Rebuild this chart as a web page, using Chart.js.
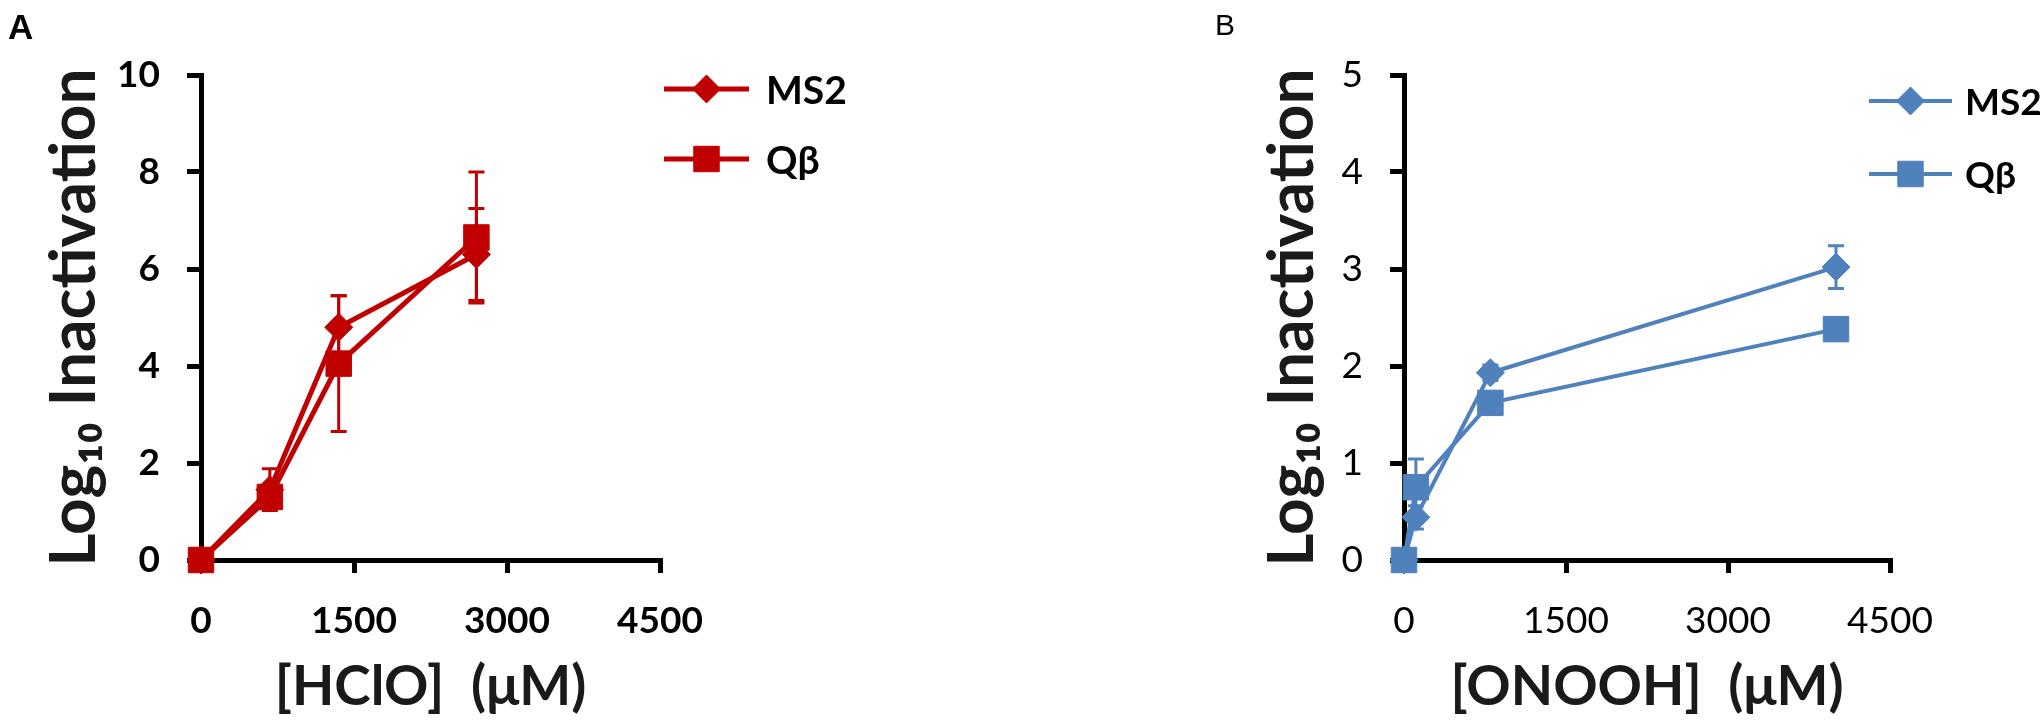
<!DOCTYPE html>
<html>
<head>
<meta charset="utf-8">
<script src="https://cdn.jsdelivr.net/npm/chart.js@4.4.1/dist/chart.umd.min.js"></script>
<style>
  body { margin: 0; background: #fff; }
  #page { position: relative; width: 2043px; height: 720px; overflow: hidden; background: #fff; }
  .wrap { position: absolute; top: 0; height: 720px; }
  #wrapA { left: 0; width: 1000px; }
  #wrapB { left: 1000px; width: 1043px; }
  .tag { position: absolute; font-family: "Liberation Sans", Arial, sans-serif; color: #000; line-height: 1; }
  #tagA { left: 8px; top: 9px; font-size: 35px; font-weight: bold; }
  #tagB { left: 1215px; top: 10px; font-size: 30px; }
</style>
</head>
<body>
<div id="page">
  <div class="wrap" id="wrapA"><canvas id="chartA" width="1000" height="720"></canvas></div>
  <div class="wrap" id="wrapB"><canvas id="chartB" width="1043" height="720"></canvas></div>
  <div class="tag" id="tagA">A</div>
  <div class="tag" id="tagB">B</div>
</div>
<script>
"use strict";

// panel A - HClO
const hcloDose = [0, 675, 1350, 2700];
const hcloMs2 = [0, 1.45, 4.8, 6.3];
const hcloMs2Err = [0.05, 0.43, 0.65, 0.95];
const hcloQb = [0, 1.3, 4.05, 6.65];
const hcloQbErr = [0.05, 0.2, 1.4, 1.35];

// panel B - ONOOH
const onoohDose = [0, 110, 800, 4000];
const onoohMs2 = [0, 0.44, 1.93, 3.02];
const onoohMs2Err = [0.05, 0.12, 0.08, 0.22];
const onoohQb = [0, 0.75, 1.62, 2.38];
const onoohQbErr = [0.05, 0.29, 0.1, 0.05];

const xTicks = [0, 1500, 3000, 4500];
const yMaxA = 10;
const yMaxB = 5;

const RED = "#C00000";
const BLUE = "#4F81BD";

function points(xs, ys) {
  return xs.map((x, i) => ({ x: x, y: ys[i] }));
}

const errorBars = {
  id: "errorBars",
  afterDatasetsDraw(chart) {
    const ctx = chart.ctx;
    const x = chart.scales.x;
    const y = chart.scales.y;
    chart.data.datasets.forEach((ds) => {
      if (!ds.errors) return;
      ctx.save();
      ctx.strokeStyle = ds.borderColor;
      ctx.lineWidth = 3;
      ds.data.forEach((p, j) => {
        const e = ds.errors[j];
        if (!e) return;
        const px = x.getPixelForValue(p.x);
        const top = y.getPixelForValue(p.y + e);
        const bot = y.getPixelForValue(p.y - e);
        ctx.beginPath();
        ctx.moveTo(px, top);
        ctx.lineTo(px, bot);
        ctx.moveTo(px - 8, top);
        ctx.lineTo(px + 8, top);
        ctx.moveTo(px - 8, bot);
        ctx.lineTo(px + 8, bot);
        ctx.stroke();
      });
      ctx.restore();
    });
  }
};

const sideLegend = {
  id: "sideLegend",
  afterDraw(chart, args, opts) {
    const ctx = chart.ctx;
    chart.data.datasets.forEach((ds, i) => {
      const ly = opts.y0 + i * opts.gap;
      ctx.save();
      ctx.strokeStyle = ds.borderColor;
      ctx.lineWidth = ds.borderWidth;
      ctx.beginPath();
      ctx.moveTo(opts.x0, ly);
      ctx.lineTo(opts.x1, ly);
      ctx.stroke();
      ctx.fillStyle = ds.backgroundColor;
      ctx.lineWidth = 1;
      Chart.helpers.drawPoint(ctx, { pointStyle: ds.pointStyle, radius: ds.pointRadius, borderWidth: 1, rotation: 0 }, (opts.x0 + opts.x1) / 2, ly);
      ctx.fillStyle = "#000";
      ctx.font = opts.font;
      ctx.textBaseline = "middle";
      ctx.fillText(ds.label, opts.textX, ly + 2);
      ctx.restore();
    });
  }
};

function makeChart(id, cfg) {
  const fam = cfg.family;
  return new Chart(document.getElementById(id), {
    type: "line",
    data: {
      datasets: [
        {
          label: "MS2",
          data: points(cfg.dose, cfg.ms2),
          errors: cfg.ms2Err,
          borderColor: cfg.color,
          backgroundColor: cfg.color,
          borderWidth: cfg.lineWidth,
          pointStyle: "rectRot",
          pointRadius: 14,
          pointBorderWidth: 1,
          clip: false,
          tension: 0
        },
        {
          label: "Qβ",
          data: points(cfg.dose, cfg.qb),
          errors: cfg.qbErr,
          borderColor: cfg.color,
          backgroundColor: cfg.color,
          borderWidth: cfg.lineWidth,
          pointStyle: "rect",
          pointRadius: 18,
          pointBorderWidth: 1,
          clip: false,
          tension: 0
        }
      ]
    },
    options: {
      responsive: false,
      animation: false,
      events: [],
      layout: { padding: { top: 75, right: cfg.padRight, left: 0, bottom: 0 } },
      plugins: {
        legend: { display: false },
        tooltip: { enabled: false },
        sideLegend: cfg.legend
      },
      scales: {
        x: {
          type: "linear",
          min: 0,
          max: 4500,
          afterBuildTicks: (s) => { s.ticks = xTicks.map((v) => ({ value: v })); },
          ticks: { color: "#000", font: { family: fam, size: 37, weight: cfg.tickWeight }, padding: 26, callback: (v) => String(v) },
          grid: { display: true, drawOnChartArea: false, drawTicks: true, tickLength: 13, lineWidth: 5, color: "#000" },
          border: { display: true, color: "#000", width: 5 },
          title: { display: true, text: cfg.xTitle, color: "#1a1a1a", font: { family: fam, size: 55, weight: "bold" }, padding: { top: 0, bottom: 0 } },
          afterFit: (s) => { s.height = 160; }
        },
        y: {
          min: 0,
          max: cfg.yMax,
          ticks: { stepSize: cfg.yStep, color: "#000", font: { family: fam, size: 37, weight: cfg.tickWeight }, padding: 27 },
          grid: { display: true, drawOnChartArea: false, drawTicks: true, tickLength: 14, lineWidth: 5, color: "#000" },
          border: { display: true, color: "#000", width: 5 },
          title: { display: true, text: "Log₁₀ Inactivation", color: "#1a1a1a", font: { family: fam, size: 64, weight: "bold" }, padding: { top: cfg.yTitlePad, bottom: 0 } },
          afterFit: (s) => { s.width = cfg.axisLeft; }
        }
      }
    },
    plugins: [errorBars, sideLegend]
  });
}

makeChart("chartA", {
  dose: hcloDose, ms2: hcloMs2, ms2Err: hcloMs2Err, qb: hcloQb, qbErr: hcloQbErr,
  color: RED, lineWidth: 5, family: "Lato", tickWeight: "bold", padRight: 340, axisLeft: 201,
  yMax: yMaxA, yStep: 2, yTitlePad: 36, xTitle: "[HClO]  (μM)",
  legend: { x0: 664, x1: 749, y0: 89, gap: 70, textX: 766, font: "bold 39px Lato" }
});

makeChart("chartB", {
  dose: onoohDose, ms2: onoohMs2, ms2Err: onoohMs2Err, qb: onoohQb, qbErr: onoohQbErr,
  color: BLUE, lineWidth: 4, family: "Lato", tickWeight: "normal", padRight: 153, axisLeft: 404,
  yMax: yMaxB, yStep: 1, yTitlePad: 254, xTitle: "[ONOOH]  (μM)",
  legend: { x0: 869, x1: 952, y0: 101, gap: 73, textX: 965, font: "bold 37px Lato" }
});
</script>
</body>
</html>
